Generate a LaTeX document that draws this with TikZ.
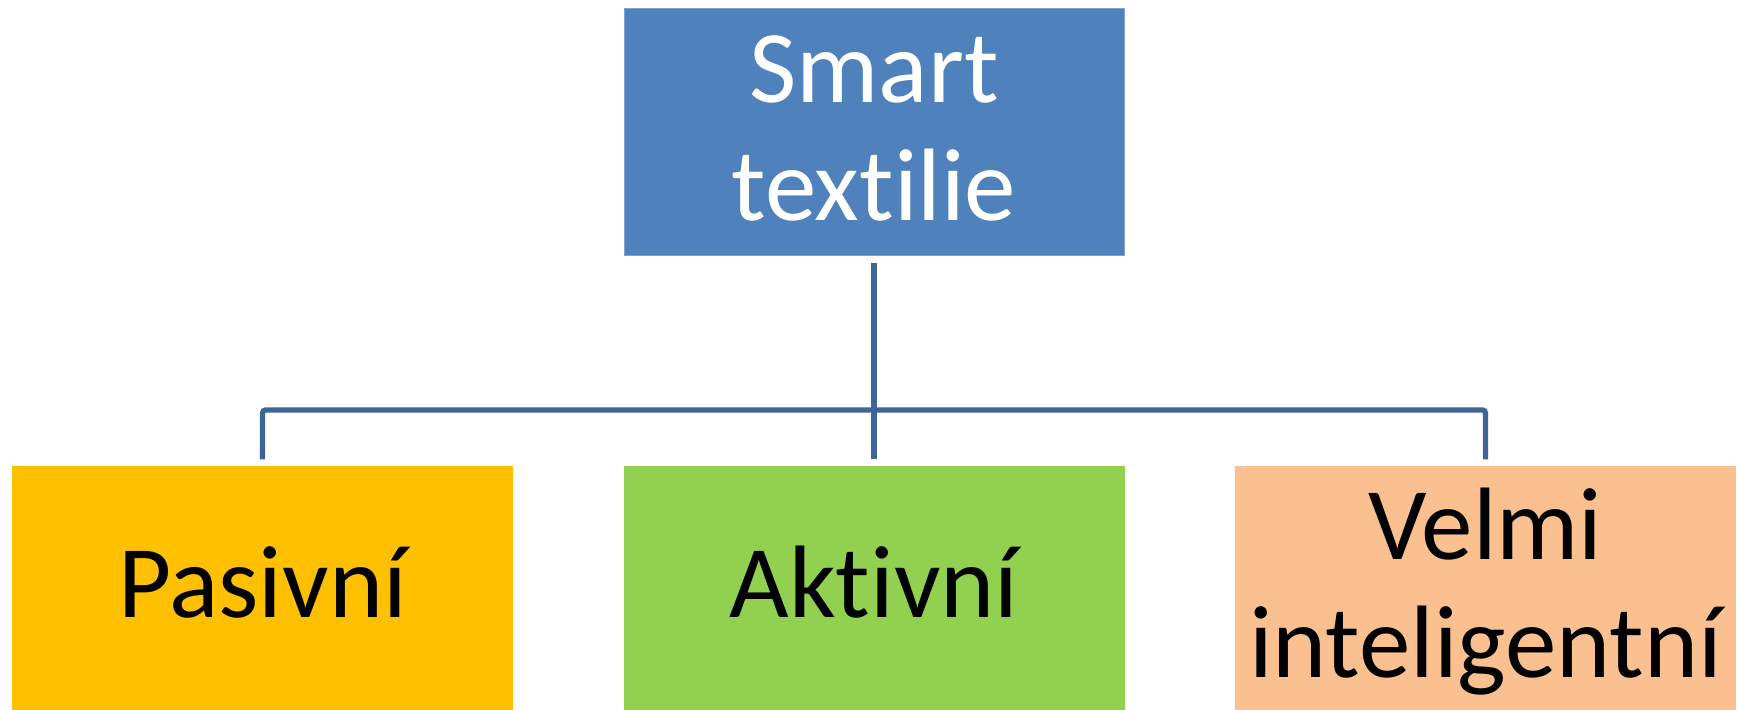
\documentclass[tikz,border=0pt]{standalone}
\usepackage{fontspec}
\setmainfont{Carlito}[Ligatures=NoCommon]
\definecolor{topblue}{HTML}{4F81BD}
\definecolor{topedge}{HTML}{7FA1CE}
\definecolor{linkblue}{HTML}{3E6597}
\definecolor{passive}{HTML}{FFC000}
\definecolor{active}{HTML}{92D050}
\definecolor{smart}{HTML}{FAC090}
\tikzset{
  box/.style={rectangle, inner sep=0pt, minimum width=250pt, minimum height=123.5pt, line width=0.5pt},
  label/.style={anchor=base, align=center, inner sep=0pt, font=\fontsize{51.5}{58.75}\selectfont},
  conn/.style={draw=linkblue, line width=2.6pt, rounded corners=1.5pt, shorten <=3.5pt, shorten >=3.5pt}
}
\begin{document}
\begin{tikzpicture}[x=0.5pt, y=-0.5pt]
  \useasboundingbox (0,0) rectangle (1738,710);
  % boxes
  \node[box, fill=topblue, draw=topedge] (top) at (874,132.5) {};
  \node[box, fill=passive, draw=passive] (pas) at (262.5,590.5) {};
  \node[box, fill=active, draw=active] (akt) at (874,590.5) {};
  \node[box, fill=smart, draw=smart] (vel) at (1485.5,590.5) {};
  % texts (base anchor sits on the last line)
  \node[label, text=white] (topt) at (874,220.5) {Smart\\textilie};
  \node[label] (past) at (262.5,617) {Pasivní};
  \node[label] (aktt) at (874,617) {Aktivní};
  \node[label] (velt) at (1485.5,677) {Velmi\\inteligentní};
  % connectors
  \coordinate (hub) at (874,410);
  \draw[conn] (pas.north) |- (hub) -| (vel.north);
  \draw[conn] (top.south) -- (akt.north);
\end{tikzpicture}
\end{document}
